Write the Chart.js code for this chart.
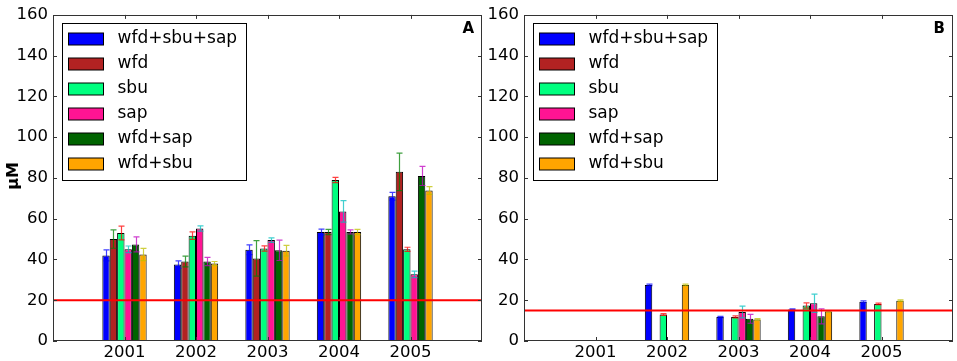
<!DOCTYPE html>
<html><head><meta charset="utf-8">
<script src="https://cdn.jsdelivr.net/npm/chart.js@4.4.0/dist/chart.umd.min.js"></script>
<style>
html,body{margin:0;padding:0;background:#fff;width:957px;height:361px;overflow:hidden}
#wa{position:absolute;left:0;top:0;width:484px;height:361px}
#wb{position:absolute;left:484px;top:0;width:473px;height:361px}
</style></head><body>
<div id="wa"><canvas id="ca"></canvas></div>
<div id="wb"><canvas id="cb"></canvas></div>
<script>
// ---- data ----
const years = [2001, 2002, 2003, 2004, 2005];
const seriesNames = ['wfd+sbu+sap', 'wfd', 'sbu', 'sap', 'wfd+sap', 'wfd+sbu'];
const yTicks = [0, 20, 40, 60, 80, 100, 120, 140, 160];

// Panel A means
const aWfdSbuSap = [42, 37.5, 44.8, 53.5, 71];
const aWfd       = [50, 39, 40.5, 53.5, 83];
const aSbu       = [53, 51.7, 45.4, 79, 45];
const aSap       = [45, 55.2, 49.5, 63.6, 32.7];
const aWfdSap    = [47.4, 39, 44.5, 53.5, 81];
const aWfdSbu    = [42.4, 38, 44.3, 53.5, 73.8];
// Panel A errors
const aErrWfdSbuSap = [2.7, 1.8, 2.4, 1.4, 1.9];
const aErrWfd       = [4.5, 2.6, 8.7, 1.3, 9.2];
const aErrSbu       = [3.4, 1.8, 1.3, 1.3, 1.0];
const aErrSap       = [1.6, 1.3, 1.1, 5.3, 1.6];
const aErrWfdSap    = [3.7, 2.0, 5.0, 1.0, 4.7];
const aErrWfdSbu    = [3.0, 1.0, 2.6, 1.3, 1.9];
const aThreshold = 20;

// Panel B means
const bWfdSbuSap = [null, 27.5, 11.8, 15.5, 19.3];
const bWfd       = [null, null, null, null, null];
const bSbu       = [null, 13, 11.8, 17.4, 18.2];
const bSap       = [null, null, 14.2, 18.5, null];
const bWfdSap    = [null, null, 10.9, 12.1, null];
const bWfdSbu    = [null, 27.5, 10.6, 14.5, 19.8];
// Panel B errors
const bErrWfdSbuSap = [0, 0.4, 0.3, 0.3, 0.4];
const bErrWfd       = [0, 0, 0, 0, 0];
const bErrSbu       = [0, 0.4, 0.5, 1.3, 0.4];
const bErrSap       = [0, 0, 2.9, 4.5, 0];
const bErrWfdSap    = [0, 0, 2.2, 3.7, 0];
const bErrWfdSbu    = [0, 0.4, 0.4, 0.3, 0.4];
const bThreshold = 15;

// ---- styles ----
const barColors = ['#0000ff', '#b22222', '#00ff7f', '#ff1493', '#006400', '#ffa500'];
const errColors = ['rgba(0,0,255,0.75)', 'rgba(0,128,0,0.75)', 'rgba(255,0,0,0.75)',
                   'rgba(0,191,191,0.75)', 'rgba(191,0,191,0.75)', 'rgba(191,191,0,0.75)'];
const FONT = "'DejaVu Sans', sans-serif";

const panelPlugin = {
  id: 'panel',
  afterDatasetsDraw(chart, args, opts) {
    const ctx = chart.ctx, ca = chart.chartArea, xs = chart.scales.x, ys = chart.scales.y;
    ctx.save();
    // error bars
    chart.data.datasets.forEach((ds, di) => {
      const meta = chart.getDatasetMeta(di);
      const errs = opts.errors[di];
      meta.data.forEach((el, i) => {
        const v = ds.data[i].y;
        if (v == null) return;
        const e = errs[i];
        const x = Math.round(el.x) + 0.5;
        const yt = ys.getPixelForValue(v + e), yb = ys.getPixelForValue(v - e);
        ctx.strokeStyle = errColors[di];
        ctx.lineWidth = 1.2;
        ctx.beginPath();
        ctx.moveTo(x, yt); ctx.lineTo(x, yb);
        ctx.moveTo(x - 3, yt); ctx.lineTo(x + 3, yt);
        ctx.moveTo(x - 3, yb); ctx.lineTo(x + 3, yb);
        ctx.stroke();
      });
    });
    // threshold line
    const ty = ys.getPixelForValue(opts.threshold);
    ctx.strokeStyle = '#ff0000';
    ctx.lineWidth = 2;
    ctx.beginPath(); ctx.moveTo(ca.left, ty); ctx.lineTo(ca.right, ty); ctx.stroke();
    // frame
    ctx.strokeStyle = '#333';
    ctx.lineWidth = 1;
    ctx.strokeRect(Math.round(ca.left) + 0.5, Math.round(ca.top) + 0.5,
                   Math.round(ca.right - ca.left) - 1, Math.round(ca.bottom - ca.top) - 1);
    // inward ticks
    ctx.beginPath();
    yTicks.forEach(v => {
      const py = Math.round(ys.getPixelForValue(v)) + 0.5;
      ctx.moveTo(ca.left, py); ctx.lineTo(ca.left + 4, py);
      ctx.moveTo(ca.right, py); ctx.lineTo(ca.right - 4, py);
    });
    years.forEach(yr => {
      const px = Math.round(xs.getPixelForValue(yr)) + 0.5;
      ctx.moveTo(px, ca.bottom); ctx.lineTo(px, ca.bottom - 4);
      ctx.moveTo(px, ca.top); ctx.lineTo(px, ca.top + 4);
    });
    ctx.stroke();
    // legend
    const lx = Math.round(ca.left) + 9.5, ly = Math.round(ca.top) + 8.5;
    ctx.fillStyle = '#fff';
    ctx.fillRect(lx, ly, 184, 157);
    ctx.strokeStyle = '#000';
    ctx.strokeRect(lx, ly, 184, 157);
    ctx.font = '17px ' + FONT;
    ctx.textBaseline = 'middle';
    ctx.textAlign = 'left';
    chart.data.datasets.forEach((ds, di) => {
      const cy = ly + 15 + di * 25;
      ctx.fillStyle = ds.backgroundColor;
      ctx.fillRect(lx + 6, Math.round(cy - 6), 35, 12);
      ctx.strokeStyle = '#000';
      ctx.strokeRect(lx + 6, Math.round(cy - 6), 35, 12);
      ctx.fillStyle = '#000';
      ctx.fillText(ds.label, lx + 55, cy);
    });
    // panel letter
    ctx.font = 'bold 15px ' + FONT;
    ctx.textAlign = 'right';
    ctx.textBaseline = 'alphabetic';
    ctx.fillText(opts.letter, ca.right - 8, ca.top + 18);
    // y title
    if (opts.title) {
      ctx.translate(14, 176);
      ctx.rotate(-Math.PI / 2);
      ctx.font = 'bold 16px ' + FONT;
      ctx.textAlign = 'center';
      ctx.textBaseline = 'middle';
      ctx.fillText(opts.title, 0, 0);
    }
    ctx.restore();
  }
};

function makeChart(id, means, errs, threshold, letter, title, yWidth, padRight) {
  const datasets = means.map((vals, di) => ({
    label: seriesNames[di],
    data: years.map((yr, i) => ({ x: yr, y: vals[i] })),
    backgroundColor: barColors[di],
    borderColor: '#000',
    borderWidth: 1,
    categoryPercentage: 0.62,
    barPercentage: 1.0
  }));
  return new Chart(document.getElementById(id), {
    type: 'bar',
    data: { datasets },
    plugins: [panelPlugin],
    options: {
      responsive: true,
      maintainAspectRatio: false,
      animation: false,
      devicePixelRatio: 1,
      layout: { padding: { left: 0, right: padRight, top: 10, bottom: 0 } },
      plugins: {
        legend: { display: false },
        tooltip: { enabled: false },
        panel: { errors: errs, threshold, letter, title }
      },
      scales: {
        x: {
          type: 'linear', min: 2000, max: 2006, offset: false,
          grid: { display: false, drawTicks: false, offset: false },
          border: { display: false },
          afterBuildTicks: s => { s.ticks = years.map(v => ({ value: v })); },
          afterFit: s => { s.height = 20; },
          ticks: { callback: v => String(v), font: { family: FONT, size: 16.5 }, color: '#000',
                   padding: 2, maxRotation: 0, autoSkip: false }
        },
        y: {
          min: 0, max: 160,
          grid: { display: false, drawTicks: false },
          border: { display: false },
          afterBuildTicks: s => { s.ticks = yTicks.map(v => ({ value: v })); },
          afterFit: s => { s.width = yWidth; },
          ticks: { font: { family: FONT, size: 16.5 }, color: '#000', padding: 5 }
        }
      }
    }
  });
}

makeChart('ca', [aWfdSbuSap, aWfd, aSbu, aSap, aWfdSap, aWfdSbu],
  [aErrWfdSbuSap, aErrWfd, aErrSbu, aErrSap, aErrWfdSap, aErrWfdSbu],
  aThreshold, 'A', 'μM', 53, 2);
makeChart('cb', [bWfdSbuSap, bWfd, bSbu, bSap, bWfdSap, bWfdSbu],
  [bErrWfdSbuSap, bErrWfd, bErrSbu, bErrSap, bErrWfdSap, bErrWfdSbu],
  bThreshold, 'B', '', 40, 4);
</script>
</body></html>
